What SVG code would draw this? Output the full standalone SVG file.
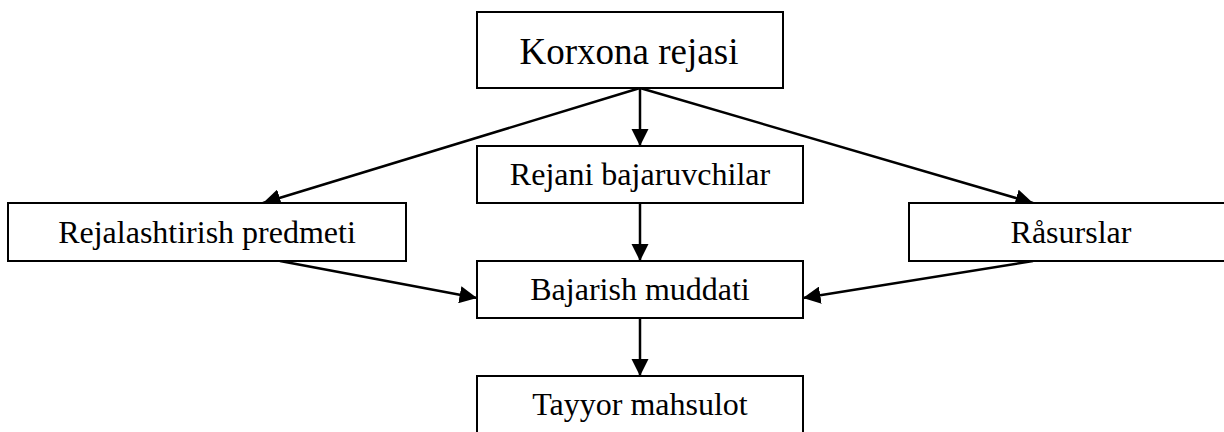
<svg xmlns="http://www.w3.org/2000/svg" width="1224" height="432" viewBox="0 0 1224 432">
<defs>
<style>
.box{fill:#fff;stroke:#000;stroke-width:2}
.t{font-family:"Liberation Serif","Times New Roman",serif;font-size:32px;fill:#000;text-anchor:middle}
.big{font-size:37px}
.c{stroke:#000;stroke-width:2.5;fill:none;marker-end:url(#ah)}
</style>
<marker id="ah" viewBox="0 0 10 10" refX="10" refY="5" markerWidth="7" markerHeight="7" markerUnits="strokeWidth" orient="auto">
<path d="M0,0 L10,5 L0,10 z" fill="#000"/>
</marker>
</defs>
<rect width="1224" height="432" fill="#fff"/>
<g id="connectors">
<line class="c" x1="640" y1="88" x2="640" y2="146"/>
<line class="c" x1="640" y1="88" x2="263" y2="203"/>
<line class="c" x1="640" y1="88" x2="1033" y2="203"/>
<line class="c" x1="640" y1="203" x2="640" y2="261"/>
<line class="c" x1="280" y1="261" x2="477" y2="298"/>
<line class="c" x1="1033" y1="261" x2="803" y2="298"/>
<line class="c" x1="640" y1="318" x2="640" y2="376"/>
</g>
<g id="korxona">
<rect class="box" x="477" y="12" width="306" height="76"/>
<text class="t big" x="629" y="64">Korxona rejasi</text>
</g>
<g id="bajaruvchilar">
<rect class="box" x="477" y="146" width="326" height="57"/>
<text class="t" x="640" y="185">Rejani bajaruvchilar</text>
</g>
<g id="predmeti">
<rect class="box" x="8" y="203" width="398" height="58"/>
<text class="t" x="207" y="243">Rejalashtirish predmeti</text>
</g>
<g id="resurslar">
<rect class="box" x="909" y="203" width="324" height="58"/>
<text class="t" x="1071" y="243">Råsurslar</text>
</g>
<g id="muddati">
<rect class="box" x="477" y="261" width="326" height="57"/>
<text class="t" x="640" y="300">Bajarish muddati</text>
</g>
<g id="tayyor">
<rect class="box" x="477" y="376" width="326" height="70"/>
<text class="t" x="640" y="415">Tayyor mahsulot</text>
</g>
</svg>
